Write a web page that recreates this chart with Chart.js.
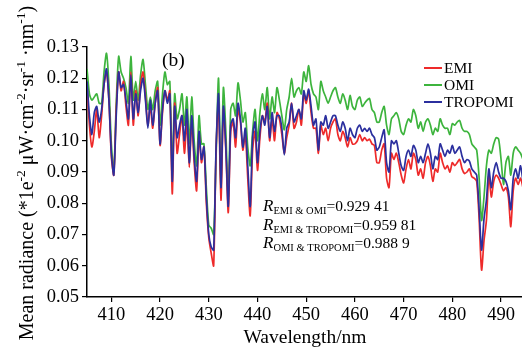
<!DOCTYPE html>
<html>
<head>
<meta charset="utf-8">
<script src="https://cdn.jsdelivr.net/npm/chart.js@4.4.0/dist/chart.umd.min.js"></script>
<style>
  html, body { margin: 0; padding: 0; background: #fff; }
  #chart { display: block; }
</style>
</head>
<body>
<canvas id="chart" width="522" height="352"></canvas>
<script>
  "use strict";

  // wavelength grid (nm), 0.5 nm steps
  const wavelengths = [
    405, 405.5, 406, 406.5, 407, 407.5, 408, 408.5, 409, 409.5,
    410, 410.5, 411, 411.5, 412, 412.5, 413, 413.5, 414, 414.5,
    415, 415.5, 416, 416.5, 417, 417.5, 418, 418.5, 419, 419.5,
    420, 420.5, 421, 421.5, 422, 422.5, 423, 423.5, 424, 424.5,
    425, 425.5, 426, 426.5, 427, 427.5, 428, 428.5, 429, 429.5,
    430, 430.5, 431, 431.5, 432, 432.5, 433, 433.5, 434, 434.5,
    435, 435.5, 436, 436.5, 437, 437.5, 438, 438.5, 439, 439.5,
    440, 440.5, 441, 441.5, 442, 442.5, 443, 443.5, 444, 444.5,
    445, 445.5, 446, 446.5, 447, 447.5, 448, 448.5, 449, 449.5,
    450, 450.5, 451, 451.5, 452, 452.5, 453, 453.5, 454, 454.5,
    455, 455.5, 456, 456.5, 457, 457.5, 458, 458.5, 459, 459.5,
    460, 460.5, 461, 461.5, 462, 462.5, 463, 463.5, 464, 464.5,
    465, 465.5, 466, 466.5, 467, 467.5, 468, 468.5, 469, 469.5,
    470, 470.5, 471, 471.5, 472, 472.5, 473, 473.5, 474, 474.5,
    475, 475.5, 476, 476.5, 477, 477.5, 478, 478.5, 479, 479.5,
    480, 480.5, 481, 481.5, 482, 482.5, 483, 483.5, 484, 484.5,
    485, 485.5, 486, 486.5, 487, 487.5, 488, 488.5, 489, 489.5,
    490, 490.5, 491, 491.5, 492, 492.5, 493, 493.5, 494, 494.5
  ];

  const emi = [
    0.118, 0.105, 0.098, 0.103, 0.110, 0.101, 0.108, 0.118, 0.122, 0.113,
    0.095, 0.089, 0.110, 0.122, 0.116, 0.119, 0.111, 0.105, 0.122, 0.105,
    0.116, 0.108, 0.118, 0.122, 0.114, 0.105, 0.111, 0.104, 0.112, 0.117,
    0.0985, 0.109, 0.116, 0.113, 0.116, 0.083, 0.112, 0.096, 0.102, 0.108,
    0.096, 0.106, 0.0915, 0.106, 0.093, 0.084, 0.102, 0.093, 0.098, 0.080,
    0.069, 0.064, 0.060, 0.097, 0.112, 0.081, 0.110, 0.097, 0.077, 0.103,
    0.106, 0.098, 0.110, 0.106, 0.097, 0.102, 0.088, 0.076, 0.097, 0.103,
    0.0905, 0.101, 0.108, 0.106, 0.112, 0.100, 0.107, 0.100, 0.109, 0.107,
    0.102, 0.096, 0.101, 0.105, 0.112, 0.104, 0.106, 0.110, 0.105, 0.115,
    0.112, 0.116, 0.109, 0.104, 0.104, 0.096, 0.105, 0.102, 0.104, 0.100,
    0.104, 0.106, 0.107, 0.102, 0.100, 0.103, 0.101, 0.098, 0.101, 0.099,
    0.099, 0.100, 0.102, 0.100, 0.101, 0.100, 0.1005, 0.099, 0.0985, 0.093,
    0.093, 0.097, 0.099, 0.088, 0.085, 0.096, 0.094, 0.096, 0.093, 0.089,
    0.0865, 0.091, 0.094, 0.091, 0.096, 0.094, 0.089, 0.091, 0.088, 0.093,
    0.095, 0.092, 0.087, 0.091, 0.090, 0.096, 0.093, 0.091, 0.092, 0.090,
    0.093, 0.092, 0.093, 0.094, 0.091, 0.0895, 0.090, 0.091, 0.0885, 0.088,
    0.087, 0.075, 0.0586, 0.068, 0.0746, 0.089, 0.082, 0.087, 0.089, 0.088,
    0.086, 0.084, 0.085, 0.082, 0.0725, 0.084, 0.088, 0.086, 0.088, 0.085
  ];

  const omi = [
    0.123, 0.115, 0.113, 0.114, 0.115, 0.112, 0.112, 0.122, 0.128, 0.118,
    0.099, 0.090, 0.112, 0.127, 0.122, 0.120, 0.117, 0.112, 0.127, 0.113,
    0.119, 0.113, 0.121, 0.126, 0.118, 0.110, 0.114, 0.110, 0.116, 0.119,
    0.105, 0.115, 0.122, 0.118, 0.119, 0.090, 0.115, 0.107, 0.110, 0.115,
    0.105, 0.114, 0.099, 0.114, 0.100, 0.092, 0.108, 0.099, 0.099, 0.085,
    0.073, 0.072, 0.070, 0.095, 0.120, 0.087, 0.117, 0.103, 0.082, 0.110,
    0.112, 0.108, 0.1185, 0.113, 0.106, 0.109, 0.098, 0.092, 0.103, 0.110,
    0.100, 0.109, 0.115, 0.110, 0.117, 0.107, 0.114, 0.109, 0.117, 0.113,
    0.108, 0.1035, 0.110, 0.114, 0.120, 0.114, 0.116, 0.117, 0.115, 0.122,
    0.119, 0.124, 0.118, 0.115, 0.114, 0.110, 0.119, 0.116, 0.114, 0.112,
    0.114, 0.116, 0.117, 0.114, 0.112, 0.115, 0.113, 0.110, 0.1145, 0.111,
    0.110, 0.113, 0.114, 0.111, 0.112, 0.113, 0.1135, 0.110, 0.109, 0.106,
    0.106, 0.109, 0.111, 0.105, 0.102, 0.107, 0.108, 0.109, 0.107, 0.103,
    0.102, 0.105, 0.107, 0.106, 0.110, 0.108, 0.104, 0.106, 0.103, 0.106,
    0.107, 0.105, 0.102, 0.104, 0.103, 0.107, 0.105, 0.104, 0.104, 0.102,
    0.1055, 0.105, 0.106, 0.1065, 0.104, 0.103, 0.103, 0.102, 0.099, 0.098,
    0.097, 0.088, 0.0745, 0.082, 0.092, 0.097, 0.096, 0.099, 0.101, 0.1005,
    0.094, 0.086, 0.093, 0.095, 0.089, 0.096, 0.098, 0.097, 0.096, 0.094
  ];

  const tropomi = [
    0.119, 0.108, 0.102, 0.109, 0.111, 0.106, 0.110, 0.118, 0.123, 0.113,
    0.096, 0.089, 0.108, 0.122, 0.117, 0.118, 0.113, 0.107, 0.121, 0.107,
    0.115, 0.109, 0.116, 0.120, 0.113, 0.104, 0.113, 0.105, 0.112, 0.116,
    0.099, 0.110, 0.116, 0.112, 0.115, 0.087, 0.111, 0.101, 0.105, 0.108,
    0.100, 0.110, 0.093, 0.108, 0.095, 0.087, 0.103, 0.094, 0.098, 0.082,
    0.070, 0.066, 0.065, 0.098, 0.115, 0.085, 0.111, 0.098, 0.079, 0.105,
    0.107, 0.101, 0.112, 0.107, 0.098, 0.104, 0.092, 0.079, 0.101, 0.106,
    0.093, 0.103, 0.108, 0.105, 0.111, 0.101, 0.109, 0.103, 0.108, 0.108,
    0.104, 0.0955, 0.104, 0.106, 0.112, 0.106, 0.108, 0.110, 0.107, 0.116,
    0.113, 0.1165, 0.111, 0.105, 0.107, 0.097, 0.106, 0.105, 0.108, 0.104,
    0.106, 0.108, 0.108, 0.105, 0.103, 0.106, 0.104, 0.100, 0.104, 0.102,
    0.101, 0.104, 0.105, 0.103, 0.104, 0.103, 0.104, 0.102, 0.101, 0.097,
    0.098, 0.101, 0.1035, 0.093, 0.090, 0.100, 0.099, 0.100, 0.096, 0.092,
    0.0905, 0.095, 0.097, 0.095, 0.0985, 0.097, 0.093, 0.095, 0.093, 0.096,
    0.099, 0.096, 0.091, 0.095, 0.094, 0.099, 0.097, 0.095, 0.097, 0.096,
    0.0985, 0.096, 0.097, 0.098, 0.095, 0.093, 0.094, 0.0935, 0.091, 0.090,
    0.089, 0.078, 0.065, 0.075, 0.081, 0.091, 0.085, 0.090, 0.093, 0.090,
    0.088, 0.088, 0.087, 0.084, 0.078, 0.088, 0.091, 0.088, 0.092, 0.087
  ];

  const xTickValues = [410, 420, 430, 440, 450, 460, 470, 480, 490];
  const yTickValues = [0.05, 0.06, 0.07, 0.08, 0.09, 0.10, 0.11, 0.12, 0.13];

  const seriesNames = ["EMI", "OMI", "TROPOMI"];
  const correlations = [
    { sub: "EMI & OMI", value: "=0.929 41" },
    { sub: "EMI & TROPOMI", value: "=0.959 81" },
    { sub: "OMI & TROPOMI", value: "=0.988 9" }
  ];

  const SERIF = "'Liberation Serif', 'Times New Roman', serif";
  const COLORS = {
    EMI: "#ee2a2a",
    OMI: "#3db43d",
    TROPOMI: "#2b2f9e"
  };

  const toPoints = (values) => values.map((v, i) => ({ x: wavelengths[i], y: v }));

  // axis titles, legend and text notes drawn on top of the plot
  const annotations = {
    id: "annotations",
    afterDraw(chart) {
      const ctx = chart.ctx;
      ctx.save();
      ctx.fillStyle = "#000";

      // y-axis title with superscripts
      const parts = [
        ["Mean radiance (*1e", false],
        ["-2", true],
        [" \u03bcW\u00b7cm", false],
        ["-2", true],
        ["\u00b7sr", false],
        ["-1", true],
        [" \u00b7nm", false],
        ["-1", true],
        [")", false]
      ];
      const mainFont = `20px ${SERIF}`;
      const supFont = `13.5px ${SERIF}`;
      let total = 0;
      parts.forEach(([t, sup]) => {
        ctx.font = sup ? supFont : mainFont;
        total += ctx.measureText(t).width;
      });
      ctx.translate(33, 173);
      ctx.rotate(-Math.PI / 2);
      ctx.textBaseline = "alphabetic";
      ctx.textAlign = "left";
      let px = -total / 2;
      parts.forEach(([t, sup]) => {
        ctx.font = sup ? supFont : mainFont;
        ctx.fillText(t, px, sup ? -8 : 0);
        px += ctx.measureText(t).width;
      });
      ctx.setTransform(1, 0, 0, 1, 0, 0);

      // x-axis title
      ctx.font = `19.5px ${SERIF}`;
      ctx.textAlign = "center";
      ctx.textBaseline = "middle";
      ctx.fillText("Wavelength/nm", 305, 338);

      // panel tag
      ctx.textAlign = "left";
      ctx.fillText("(b)", 162, 61);

      // legend
      ctx.font = `15.5px ${SERIF}`;
      seriesNames.forEach((name, i) => {
        const y = 68 + i * 17;
        ctx.strokeStyle = COLORS[name];
        ctx.lineWidth = 2;
        ctx.beginPath();
        ctx.moveTo(424, y);
        ctx.lineTo(442, y);
        ctx.stroke();
        ctx.fillText(name, 444, y + 1);
      });

      // correlation notes
      ctx.textBaseline = "alphabetic";
      correlations.forEach((c, i) => {
        const base = 211 + i * 18.5;
        let x = 263;
        ctx.font = `italic 17px ${SERIF}`;
        ctx.fillText("R", x, base);
        x += ctx.measureText("R").width;
        ctx.font = `10.5px ${SERIF}`;
        ctx.fillText(c.sub, x, base + 3);
        x += ctx.measureText(c.sub).width;
        ctx.font = `15.5px ${SERIF}`;
        ctx.fillText(c.value, x, base);
      });

      ctx.restore();
    }
  };

  const lineDataset = (label, values, order) => ({
    label,
    data: toPoints(values),
    borderColor: COLORS[label],
    backgroundColor: COLORS[label],
    borderWidth: 1.7,
    pointRadius: 0,
    tension: 0.25,
    fill: false,
    order
  });

  const axisFont = { family: SERIF, size: 18.5 };

  new Chart(document.getElementById("chart"), {
    type: "line",
    data: {
      datasets: [
        lineDataset("EMI", emi, 1),
        lineDataset("OMI", omi, 2),
        lineDataset("TROPOMI", tropomi, 0)
      ]
    },
    options: {
      responsive: false,
      maintainAspectRatio: false,
      animation: false,
      layout: { padding: { top: 47, right: 0, bottom: 0, left: 0 } },
      plugins: {
        legend: { display: false },
        tooltip: { enabled: false }
      },
      scales: {
        x: {
          type: "linear",
          min: 405,
          max: 494.3,
          afterFit: (scale) => { scale.height = 55; },
          afterBuildTicks: (scale) => {
            scale.ticks = xTickValues.map((value) => ({ value }));
          },
          grid: { drawOnChartArea: false, tickLength: 5, color: "#000", lineWidth: 1.2 },
          border: { display: true, color: "#000", width: 1.5 },
          ticks: { color: "#000", font: axisFont, padding: 2, maxRotation: 0 }
        },
        y: {
          min: 0.05,
          max: 0.13,
          afterFit: (scale) => { scale.width = 87; },
          afterBuildTicks: (scale) => {
            scale.ticks = yTickValues.map((value) => ({ value }));
          },
          grid: { drawOnChartArea: false, tickLength: 5, color: "#000", lineWidth: 1.2 },
          border: { display: true, color: "#000", width: 1.5 },
          ticks: {
            color: "#000",
            font: axisFont,
            padding: 3,
            callback: (value) => value.toFixed(2)
          }
        }
      }
    },
    plugins: [annotations]
  });
</script>
</body>
</html>
